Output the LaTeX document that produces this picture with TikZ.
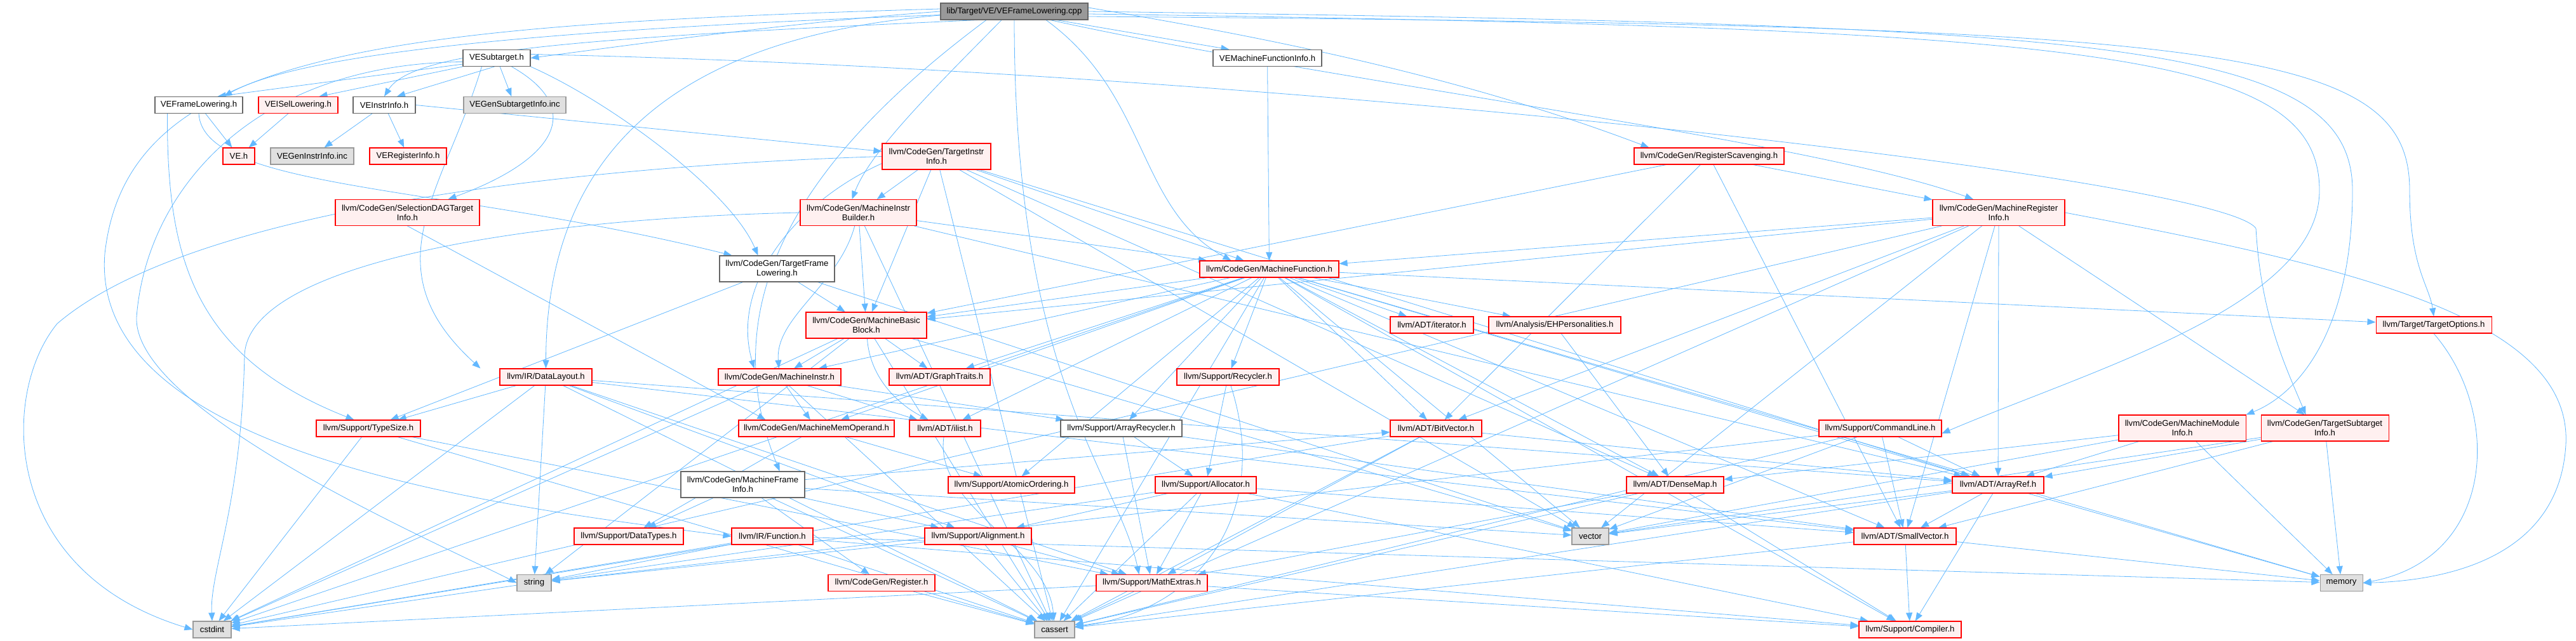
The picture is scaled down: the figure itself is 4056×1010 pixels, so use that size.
\documentclass[tikz,border=0pt]{standalone}
\usepackage{fontspec}
\setmainfont{Liberation Sans}
\usetikzlibrary{arrows.meta}

\definecolor{edgeblue}{HTML}{63B8FF}
\definecolor{nodered}{HTML}{FF0000}
\definecolor{nodepink}{HTML}{FFF0F0}
\definecolor{grey40}{HTML}{666666}
\definecolor{grey60}{HTML}{999999}
\definecolor{grey88}{HTML}{E0E0E0}

\pgfdeclarelayer{edges}
\pgfsetlayers{edges,main}

\tikzset{every picture/.style={line width=0.6pt}}

\begin{document}
\begin{tikzpicture}[
            x=0.5pt,
            y=0.5pt,
            yscale=-1,
            hdr/.style={rectangle, draw, line width=0.55pt, inner sep=0pt, align=center, text=black,
              font=\fontsize{6.6pt}{7.5pt}\selectfont, minimum height=13pt},
            two/.style={minimum height=20.5pt},
            wd/.style={minimum width=#1*0.5pt},
            rootnode/.style={hdr, draw=grey40, fill=grey60},
            localnode/.style={hdr, draw=grey40, fill=white},
            cutnode/.style={hdr, draw=nodered, fill=nodepink},
            sysnode/.style={hdr, draw=grey60, fill=grey88},
            dep/.style={draw=edgeblue, -{Triangle[length=6.5pt,width=5pt]}},
            line width=0.6pt
        ]
            \useasboundingbox (0,0) rectangle (4056,1010);

            % headers
            \node[rootnode, wd=232] (cpp) at (1597,18) {lib/Target/VE/VEFrameLowering.cpp};
            \node[localnode, wd=106] (vesub) at (782,91.5) {VESubtarget.h};
            \node[localnode, wd=171] (vemfi) at (1995.5,91.5) {VEMachineFunctionInfo.h};
            \node[localnode, wd=138] (vefl) at (313,165.5) {VEFrameLowering.h};
            \node[cutnode, wd=125] (veisel) at (469.5,165.5) {VEISelLowering.h};
            \node[localnode, wd=98] (veii) at (605,165.5) {VEInstrInfo.h};
            \node[sysnode, wd=161] (vegsub) at (810.5,165.5) {VEGenSubtargetInfo.inc};
            \node[cutnode, wd=50] (veh) at (376,246) {VE.h};
            \node[sysnode, wd=131] (vegii) at (491.5,246) {VEGenInstrInfo.inc};
            \node[cutnode, wd=121] (veri) at (642.5,246) {VERegisterInfo.h};
            \node[cutnode, two, wd=171] (tii) at (1474.5,246.5) {llvm/CodeGen/TargetInstr\\Info.h};
            \node[cutnode, wd=236] (rs) at (2691,246) {llvm/CodeGen/RegisterScavenging.h};
            \node[cutnode, two, wd=227] (sdag) at (641.5,335) {llvm/CodeGen/SelectionDAGTarget\\Info.h};
            \node[cutnode, two, wd=183] (mib) at (1351.5,335) {llvm/CodeGen/MachineInstr\\Builder.h};
            \node[cutnode, two, wd=208] (mri) at (3147,335) {llvm/CodeGen/MachineRegister\\Info.h};
            \node[localnode, two, wd=181] (tfl) at (1223.5,423.5) {llvm/CodeGen/TargetFrame\\Lowering.h};
            \node[cutnode, wd=219] (mf) at (1998.5,424) {llvm/CodeGen/MachineFunction.h};
            \node[cutnode, two, wd=190] (mbb) at (1364,512.5) {llvm/CodeGen/MachineBasic\\Block.h};
            \node[cutnode, wd=131] (iter) at (2254.5,512) {llvm/ADT/iterator.h};
            \node[cutnode, wd=208] (ehp) at (2448,512) {llvm/Analysis/EHPersonalities.h};
            \node[cutnode, wd=182] (topt) at (3832,512) {llvm/Target/TargetOptions.h};
            \node[cutnode, wd=145] (dl) at (859.5,594) {llvm/IR/DataLayout.h};
            \node[cutnode, wd=193] (mi) at (1227.5,594) {llvm/CodeGen/MachineInstr.h};
            \node[cutnode, wd=159] (gt) at (1479.5,594) {llvm/ADT/GraphTraits.h};
            \node[cutnode, wd=161] (rec) at (1933.5,594) {llvm/Support/Recycler.h};
            \node[cutnode, wd=164] (ts) at (580,675) {llvm/Support/TypeSize.h};
            \node[cutnode, wd=245] (mmo) at (1285.5,675) {llvm/CodeGen/MachineMemOperand.h};
            \node[cutnode, wd=112] (ilist) at (1488,675) {llvm/ADT/ilist.h};
            \node[localnode, wd=191] (arec) at (1765.5,675) {llvm/Support/ArrayRecycler.h};
            \node[cutnode, wd=144] (bv) at (2261,675) {llvm/ADT/BitVector.h};
            \node[cutnode, wd=193] (cl) at (2960.5,675) {llvm/Support/CommandLine.h};
            \node[cutnode, two, wd=200] (mmi) at (3436,674.5) {llvm/CodeGen/MachineModule\\Info.h};
            \node[cutnode, two, wd=201] (tsi) at (3660.5,674.5) {llvm/CodeGen/TargetSubtarget\\Info.h};
            \node[localnode, two, wd=195] (mfi) at (1169.5,763.5) {llvm/CodeGen/MachineFrame\\Info.h};
            \node[cutnode, wd=199] (ao) at (1592.5,764) {llvm/Support/AtomicOrdering.h};
            \node[cutnode, wd=159] (alloc) at (1898.5,764) {llvm/Support/Allocator.h};
            \node[cutnode, wd=153] (dm) at (2637.5,764) {llvm/ADT/DenseMap.h};
            \node[cutnode, wd=144] (ar) at (3146,764) {llvm/ADT/ArrayRef.h};
            \node[cutnode, wd=172] (dt) at (990,845) {llvm/Support/DataTypes.h};
            \node[cutnode, wd=128] (fn) at (1216,845) {llvm/IR/Function.h};
            \node[cutnode, wd=168] (align) at (1540,845) {llvm/Support/Alignment.h};
            \node[sysnode, wd=58] (vec) at (2504,845) {vector};
            \node[cutnode, wd=161] (sv) at (2999.5,845) {llvm/ADT/SmallVector.h};
            \node[sysnode, wd=54] (str) at (841,918.5) {string};
            \node[cutnode, wd=168] (reg) at (1388,918.5) {llvm/CodeGen/Register.h};
            \node[cutnode, wd=175] (me) at (1813.5,918.5) {llvm/Support/MathExtras.h};
            \node[sysnode, wd=67] (mem) at (3686.5,918.5) {memory};
            \node[sysnode, wd=60] (cstdint) at (334,992) {cstdint};
            \node[sysnode, wd=63] (cassert) at (1660.5,992) {cassert};
            \node[cutnode, wd=161] (comp) at (3007.5,992) {llvm/Support/Compiler.h};

            \begin{pgfonlayer}{edges}
            % lib/Target/VE/VEFrameLowering.cpp
            \draw[dep] (cpp.west) .. controls (1250,35) and (1000,70) .. (vesub.east);
            \draw[dep] ([yshift=-4pt]cpp.south west) .. controls (900,45) and (480,80) .. ([xshift=-15pt]vefl.north east);
            \draw[dep] ([xshift=30pt]cpp.south west) .. controls (900,60) and (650,80) .. (veii.north);
            \draw[dep] ([xshift=-25pt]cpp.south east) -- ([xshift=-30pt]vemfi.north);
            \draw[dep] ([xshift=-22pt]cpp.south) .. controls (1300,220) and (1110,450) .. ([xshift=-20pt]mfi.north east);
            \draw[dep] ([xshift=25pt]cpp.south) .. controls (1810,150) and (1790,330) .. ([xshift=-30pt]mf.north);
            \draw[dep] ([xshift=-10pt]cpp.south) .. controls (1460,150) and (1370,240) .. ([xshift=-5pt]mib.north);
            \draw[dep] (cpp.east) .. controls (3300,40) and (3704,60) .. (3704,300) .. controls (3704,520) and (3620,620) .. (mmi.north east);
            \draw[dep] ([xshift=-30pt]cpp.south east) .. controls (2100,130) and (2850,220) .. ([xshift=-20pt]mri.north);
            \draw[dep] ([yshift=-3pt]cpp.east) .. controls (2000,60) and (2300,120) .. ([xshift=12pt]rs.north west);
            \draw[dep] ([yshift=3pt]cpp.west) .. controls (1050,60) and (860,250) .. (dl.north);
            \draw[dep] ([yshift=-2pt]cpp.west) .. controls (600,40) and (200,80) .. (165,400) .. controls (140,720) and (800,800) .. (fn.west);
            \draw[dep] ([yshift=2pt]cpp.east) .. controls (3300,45) and (3652,80) .. (3652,300) .. controls (3652,480) and (3300,580) .. ([yshift=4pt]cl.east);
            \draw[dep] ([yshift=4pt]cpp.east) .. controls (3500,40) and (3794,70) .. (3794,300) .. controls (3794,420) and (3825,450) .. (topt.north);
            \draw[dep] (cpp.south) .. controls (1597,600) and (1760,750) .. ([xshift=-10pt]me.north);

            % VESubtarget.h
            \draw[dep] ([yshift=-2pt]vesub.south west) -- ([xshift=-20pt]vefl.north east);
            \draw[dep] (vesub.south west) -- ([xshift=-15pt]veisel.north east);
            \draw[dep] ([xshift=25pt]vesub.south west) -- ([xshift=10pt]veii.north);
            \draw[dep] (vesub) -- (vegsub);
            \draw[dep] ([xshift=-15pt]vesub.south east) .. controls (920,170) and (880,250) .. ([xshift=-25pt]sdag.north east);
            \draw[dep] (vesub.south east) .. controls (960,160) and (1150,300) .. ([xshift=-15pt]tfl.north);
            \draw[dep] ([yshift=-3pt]vesub.east) .. controls (2000,110) and (3500,280) .. (3552,360) .. controls (3560,500) and (3600,580) .. ([xshift=-15pt]tsi.north);
            \draw[dep] ([xshift=15pt]vesub.south west) .. controls (700,300) and (580,420) .. ([xshift=-15pt]dl.north west);
            \draw[dep] ([yshift=3pt]vesub.west) .. controls (400,100) and (230,300) .. (215,500) .. controls (210,650) and (700,860) .. (str.west);

            % VE headers
            \draw[dep] (vefl) -- (veh);
            \draw[dep] (vefl.south) .. controls (320,300) and (700,290) .. ([xshift=10pt]tfl.north west);
            \draw[dep] ([xshift=10pt]vefl.south west) .. controls (263,400) and (300,560) .. ([xshift=30pt]ts.north west);
            \draw[dep] (veisel) -- (veh);
            \draw[dep] (veii) -- (vegii);
            \draw[dep] (veii) -- (veri);
            \draw[dep] (veii.east) -- ([yshift=-4pt]tii.west);
            \draw[dep] (sdag.south) -- ([xshift=-40pt]mmo.north);
            \draw[dep] (vemfi) -- (mf);

            % llvm/CodeGen/TargetInstrInfo.h
            \draw[dep] (tii) -- (mib);
            \draw[dep] (tii) -- (mbb);
            \draw[dep] (tii) -- (mf);
            \draw[dep] ([yshift=-5pt]tii.south west) .. controls (1250,320) and (1150,450) .. ([xshift=-20pt]mi.north);
            \draw[dep] (tii.west) .. controls (900,262) and (300,330) .. (90,510) .. controls (0,620) and (0,900) .. (cstdint.west);
            \draw[dep] (tii) -- (cassert);
            \draw[dep] (tii) -- (ar);
            \draw[dep] (tii) -- (dm);
            \draw[dep] (tii) -- (vec);

            % llvm/CodeGen/MachineInstrBuilder.h
            \draw[dep] (mib) -- (ar);
            \draw[dep] (mib) -- (mbb);
            \draw[dep] (mib) -- (mf);
            \draw[dep] (mib) .. controls (1320,450) and (1220,500) .. (mi);
            \draw[dep] (mib) -- (cassert);
            \draw[dep] (mib.west) .. controls (800,345) and (390,420) .. (385,560) .. controls (380,800) and (330,900) .. (cstdint.north);

            % llvm/CodeGen/TargetFrameLowering.h
            \draw[dep] (tfl) -- (mbb);
            \draw[dep] (tfl) -- (ts);
            \draw[dep] (tfl) -- (vec);

            % llvm/CodeGen/MachineBasicBlock.h
            \draw[dep] (mbb) -- (gt);
            \draw[dep] (mbb) .. controls (1370,600) and (1420,640) .. (ilist);
            \draw[dep] (mbb) -- (mi);
            \draw[dep] (mbb) -- (cassert);
            \draw[dep] (mbb) -- (cstdint);
            \draw[dep] (mbb) -- (str);
            \draw[dep] (mbb) -- (vec);

            % llvm/CodeGen/MachineFunction.h
            \draw[dep] (mf) -- (ar);
            \draw[dep] (mf) -- (bv);
            \draw[dep] (mf) -- (dm);
            \draw[dep] (mf) -- (gt);
            \draw[dep] (mf) -- (sv);
            \draw[dep] (mf) -- (ilist);
            \draw[dep] (mf) -- (iter);
            \draw[dep] (mf) -- (ehp);
            \draw[dep] (mf) -- (mbb);
            \draw[dep] (mf) -- (mi);
            \draw[dep] (mf) -- (mmo);
            \draw[dep] (mf) -- (arec);
            \draw[dep] (mf) -- (ao);
            \draw[dep] (mf) -- (comp);
            \draw[dep] (mf) -- (rec);
            \draw[dep] (mf) -- (topt);
            \draw[dep] (mf) -- (cassert);
            \draw[dep] (mf) -- (cstdint);
            \draw[dep] (mf) -- (mem);
            \draw[dep] (mf) -- (vec);

            % llvm/CodeGen/MachineRegisterInfo.h
            \draw[dep] (mri) -- (ar);
            \draw[dep] (mri) -- (bv);
            \draw[dep] (mri) -- (sv);
            \draw[dep] (mri) -- (mbb);
            \draw[dep] (mri) -- (mf);
            \draw[dep] (mri) -- (tsi);
            \draw[dep] (mri) -- (cassert);
            \draw[dep] (mri) -- (cstdint);
            \draw[dep] (mri.east) .. controls (3700,420) and (4050,500) .. (4040,700) .. controls (4030,880) and (3850,915) .. (mem.east);
            \draw[dep] (mri) -- (vec);

            % llvm/CodeGen/RegisterScavenging.h
            \draw[dep] (rs) -- (bv);
            \draw[dep] (rs) -- (sv);
            \draw[dep] (rs) -- (mbb);
            \draw[dep] (rs) -- (mri);

            % llvm/CodeGen/MachineModuleInfo.h, TargetSubtargetInfo.h, TargetOptions.h
            \draw[dep] (mmi) -- (dm);
            \draw[dep] (mmi) -- (ar);
            \draw[dep] (mmi) -- (vec);
            \draw[dep] (mmi) -- (mem);
            \draw[dep] (tsi) -- (ar);
            \draw[dep] (tsi) -- (sv);
            \draw[dep] (tsi) -- (vec);
            \draw[dep] (tsi) -- (mem);
            \draw[dep] (topt.south) .. controls (3940,650) and (3930,880) .. (mem.east);

            % llvm/Support/CommandLine.h
            \draw[dep] (cl) -- (ar);
            \draw[dep] (cl) -- (sv);
            \draw[dep] (cl) -- (cassert);
            \draw[dep] (cl) -- (str);
            \draw[dep] (cl) -- (vec);

            % llvm/IR/DataLayout.h
            \draw[dep] (dl) -- (ar);
            \draw[dep] (dl) -- (sv);
            \draw[dep] (dl) -- (align);
            \draw[dep] (dl) -- (me);
            \draw[dep] (dl) -- (ts);
            \draw[dep] (dl) -- (cassert);
            \draw[dep] (dl) -- (cstdint);
            \draw[dep] (dl) -- (str);

            % llvm/Support/TypeSize.h, llvm/IR/Function.h
            \draw[dep] (ts) -- (me);
            \draw[dep] (ts) -- (cassert);
            \draw[dep] (ts) -- (cstdint);
            \draw[dep] (fn) -- (comp);
            \draw[dep] (fn) -- (cassert);
            \draw[dep] (fn) -- (cstdint);
            \draw[dep] (fn) -- (mem);
            \draw[dep] (fn) -- (str);

            % llvm/CodeGen/MachineFrameInfo.h
            \draw[dep] (mfi) -- (bv);
            \draw[dep] (mfi) -- (reg);
            \draw[dep] (mfi) -- (align);
            \draw[dep] (mfi) -- (dt);
            \draw[dep] (mfi) -- (cassert);
            \draw[dep] (mfi) -- (vec);

            % llvm/CodeGen/MachineInstr.h, MachineMemOperand.h
            \draw[dep] (mi) -- (ilist);
            \draw[dep] (mi) -- (mmo);
            \draw[dep] (mi) -- (arec);
            \draw[dep] (mi) -- (cassert);
            \draw[dep] (mi) -- (cstdint);
            \draw[dep] (mmo) -- (ao);
            \draw[dep] (mmo) -- (dt);

            % llvm/Support and llvm/ADT
            \draw[dep] (ilist) .. controls (1470,800) and (1650,860) .. (cassert);
            \draw[dep] (arec) -- (sv);
            \draw[dep] (arec) -- (alloc);
            \draw[dep] (arec) -- (me);
            \draw[dep] (rec) -- (alloc);
            \draw[dep] (rec) .. controls (2000,800) and (1900,960) .. (cassert);
            \draw[dep] (alloc) -- (align);
            \draw[dep] (alloc) -- (cstdint);
            \draw[dep] (alloc) -- (me);
            \draw[dep] (alloc) -- (cassert);
            \draw[dep] (alloc) -- (sv);
            \draw[dep] (alloc) -- (comp);
            \draw[dep] (align) -- (me);
            \draw[dep] (align) -- (cassert);
            \draw[dep] (align) -- (str);
            \draw[dep] (me) -- (comp);
            \draw[dep] (me) -- (cassert);
            \draw[dep] (me) -- (cstdint);
            \draw[dep] (reg) -- (cassert);
            \draw[dep] (bv) -- (ar);
            \draw[dep] (bv) -- (me);
            \draw[dep] (bv) -- (cassert);
            \draw[dep] (bv) -- (cstdint);
            \draw[dep] (dm) -- (comp);
            \draw[dep] (dm) -- (me);
            \draw[dep] (dm) -- (cassert);
            \draw[dep] (sv) -- (comp);
            \draw[dep] (sv) -- (cassert);
            \draw[dep] (sv) -- (mem);
            \draw[dep] (ar) -- (sv);
            \draw[dep] (ar) -- (comp);
            \draw[dep] (ar) -- (cassert);
            \draw[dep] (ar) -- (mem);
            \draw[dep] (ar) -- (vec);
            \draw[dep] (ehp) -- (dm);
            \end{pgfonlayer}
        \end{tikzpicture}
\end{document}
